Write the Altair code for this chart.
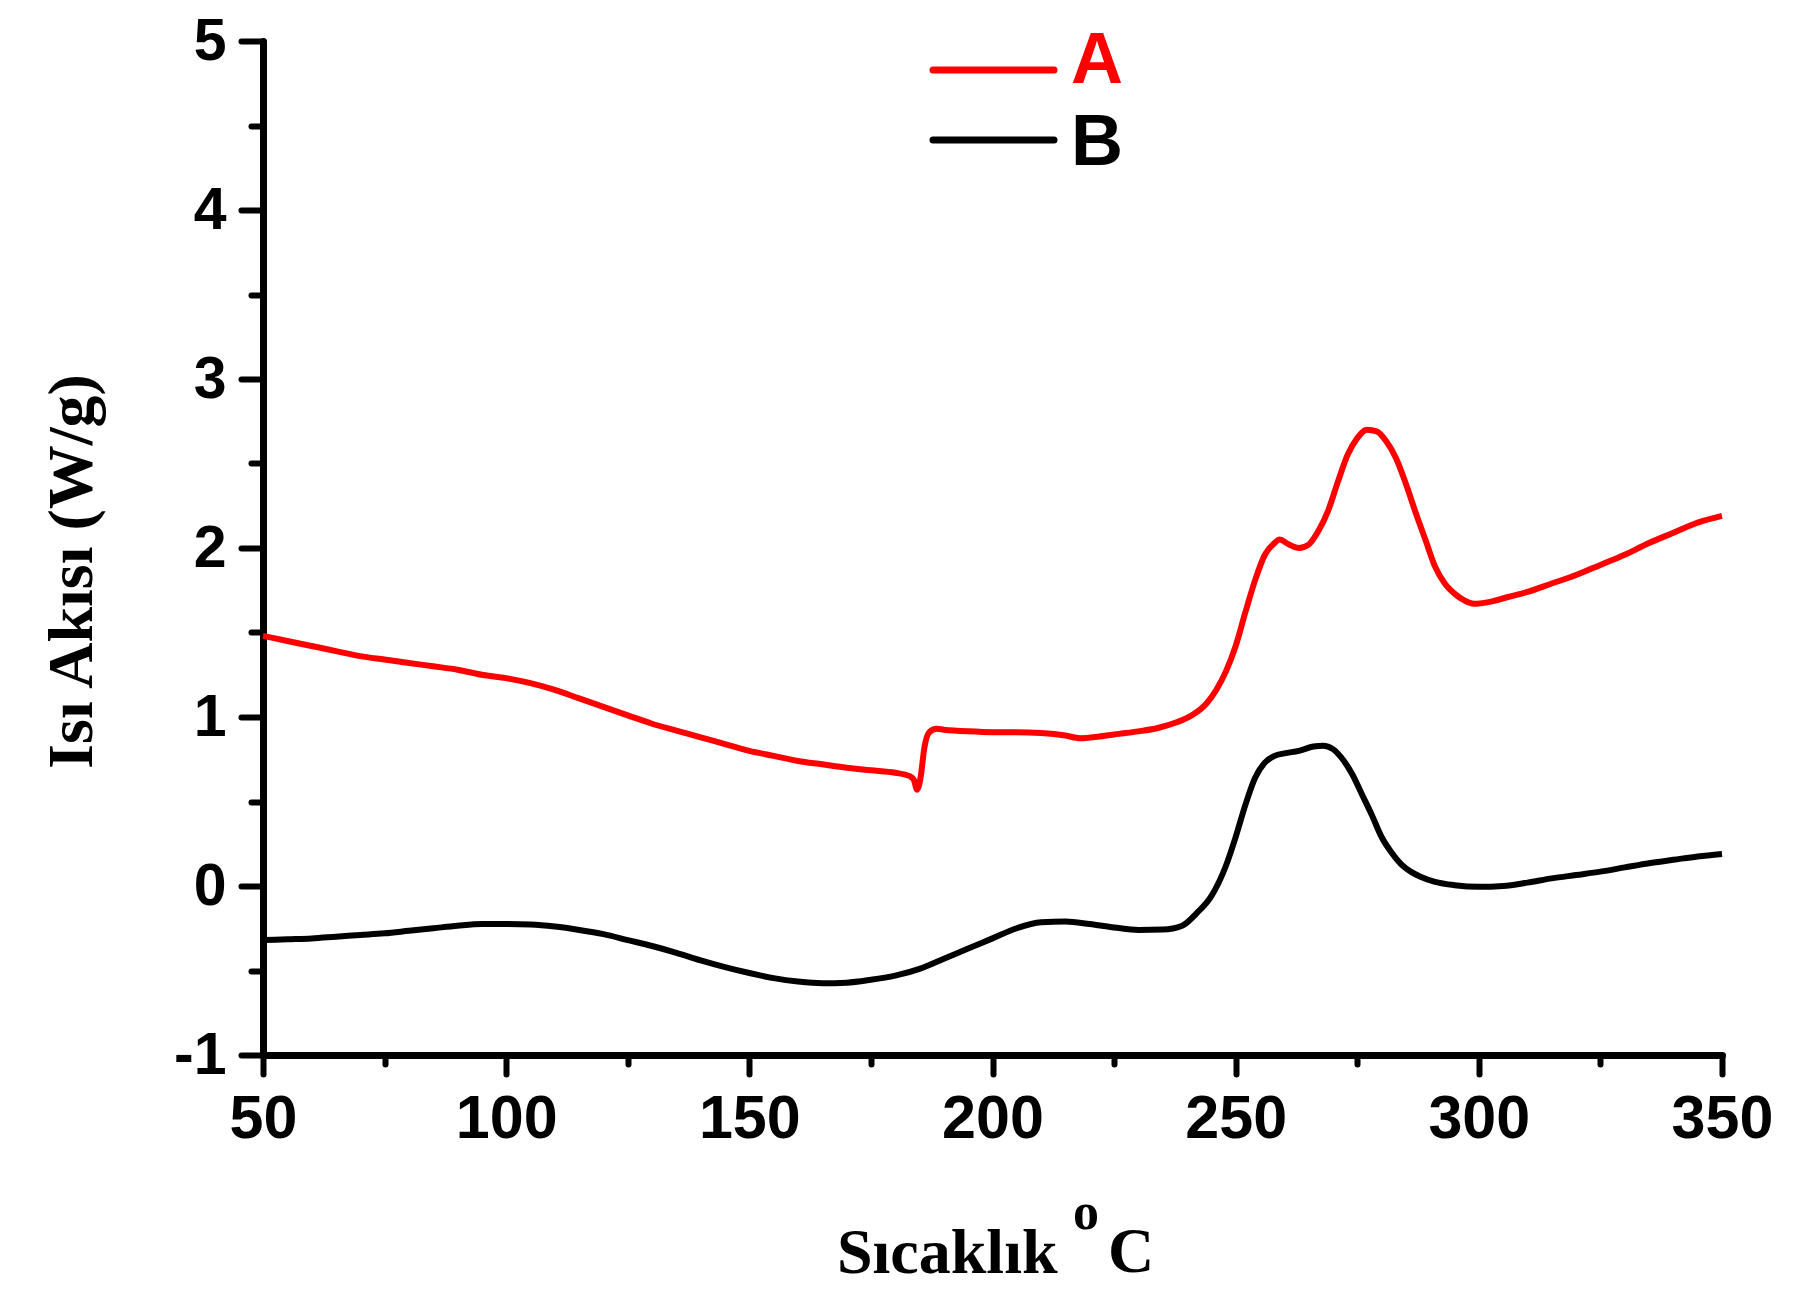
import altair as alt
import pandas as pd

# ---- data ----
temp_A = [50, 55, 60, 65, 70, 75, 80, 85, 90, 95, 100, 105, 110, 115, 120, 125, 130, 135, 140, 145,
          150, 155, 160, 165, 170, 175, 180, 183, 183.8, 184.5, 185.2, 186, 187, 188.5, 190, 195, 200,
          205, 210, 215, 218, 222, 226, 230, 234, 238, 241, 244, 246, 248, 250, 252, 254, 256, 258,
          259, 261, 263, 265, 267, 269, 271, 273, 275, 277, 279, 281, 283, 285, 287, 289, 291, 293,
          295, 297, 299, 302, 306, 310, 315, 320, 325, 330, 335, 340, 345, 350]
flow_A = [1.48, 1.45, 1.42, 1.39, 1.36, 1.34, 1.32, 1.30, 1.28, 1.25, 1.23, 1.20, 1.16, 1.11, 1.06,
          1.01, 0.96, 0.92, 0.88, 0.84, 0.80, 0.77, 0.74, 0.72, 0.70, 0.685, 0.67, 0.65, 0.63, 0.57,
          0.64, 0.82, 0.91, 0.93, 0.925, 0.915, 0.91, 0.91, 0.905, 0.89, 0.875, 0.885, 0.90, 0.915,
          0.935, 0.97, 1.01, 1.08, 1.16, 1.27, 1.42, 1.62, 1.81, 1.96, 2.03, 2.05, 2.02, 2.00, 2.02,
          2.10, 2.22, 2.39, 2.55, 2.65, 2.70, 2.69, 2.63, 2.53, 2.38, 2.21, 2.05, 1.89, 1.79, 1.73,
          1.69, 1.67, 1.68, 1.71, 1.74, 1.79, 1.84, 1.90, 1.96, 2.03, 2.09, 2.15, 2.19]

temp_B = [50, 55, 60, 65, 70, 75, 80, 85, 90, 95, 100, 105, 110, 115, 120, 125, 130, 135, 140, 145,
          150, 155, 160, 165, 170, 175, 180, 185, 190, 195, 200, 205, 210, 215, 220, 225, 230, 235,
          239, 242, 245, 248, 250, 252, 254, 256, 258, 260, 263, 266, 268, 270, 272, 274, 276, 278,
          280, 282, 284, 286, 288, 291, 295, 300, 305, 310, 315, 320, 325, 330, 335, 340, 345, 350]
flow_B = [-0.32, -0.315, -0.31, -0.30, -0.29, -0.28, -0.265, -0.25, -0.235, -0.225, -0.225, -0.228,
          -0.24, -0.26, -0.285, -0.32, -0.355, -0.395, -0.44, -0.48, -0.515, -0.545, -0.565, -0.575,
          -0.572, -0.555, -0.53, -0.49, -0.43, -0.37, -0.31, -0.25, -0.215, -0.21, -0.225, -0.245,
          -0.26, -0.258, -0.235, -0.16, -0.06, 0.12, 0.29, 0.48, 0.64, 0.73, 0.77, 0.785, 0.80, 0.825,
          0.83, 0.81, 0.75, 0.66, 0.54, 0.42, 0.29, 0.20, 0.13, 0.085, 0.055, 0.025, 0.005, -0.005, 0.0,
          0.02, 0.045, 0.065, 0.085, 0.11, 0.135, 0.155, 0.175, 0.19]

series_names = ["A", "B"]
series_colors = ["#ff0000", "#000000"]
x_ticks = [50, 75, 100, 125, 150, 175, 200, 225, 250, 275, 300, 325, 350]
y_ticks = [-1, -0.5, 0, 0.5, 1, 1.5, 2, 2.5, 3, 3.5, 4, 4.5, 5]

df = pd.concat([
    pd.DataFrame({"T": temp_A, "v": flow_A, "seri": "A"}),
    pd.DataFrame({"T": temp_B, "v": flow_B, "seri": "B"}),
])

W, H = 1459, 1014
SANS = "Liberation Sans"
SERIF = "Liberation Serif"

x_axis = alt.Axis(
    values=x_ticks,
    labelExpr="datum.value % 50 === 0 ? '' + datum.value : ''",
    tickSize={"condition": {"test": "datum.value % 50 !== 0", "value": 9}, "value": 19},
    tickWidth=6, tickColor="black", tickCap="round",
    domainWidth=7, domainColor="black", domainCap="round",
    labelFont=SANS, labelFontWeight="bold", labelFontSize=61, labelColor="black",
    labelPadding=15, labelFlush=False, labelOverlap=False,
    grid=False,
    title="Sıcaklık", titleFont=SERIF, titleFontWeight="bold", titleFontSize=64,
    titleColor="black", titleAlign="right", titleBaseline="alphabetic",
    titleX=794, titleY=217, titleAngle=0,
)
y_axis = alt.Axis(
    values=y_ticks,
    labelExpr="datum.value % 1 === 0 ? '' + datum.value : ''",
    tickSize={"condition": {"test": "datum.value % 1 !== 0", "value": 12}, "value": 22},
    tickWidth=6, tickColor="black", tickCap="round",
    domainWidth=7, domainColor="black", domainCap="round",
    labelFont=SANS, labelFontWeight="bold", labelFontSize=59, labelColor="black",
    labelPadding=15, labelFlush=False, labelOverlap=False,
    grid=False,
    title="Isı Akısı (W/g)", titleFont=SERIF, titleFontWeight="bold", titleFontSize=64,
    titleColor="black", titleAngle=270, titleAlign="center", titleBaseline="alphabetic",
    titleX=-172, titleY=530,
)

lines = alt.Chart(df).mark_line(strokeWidth=6, interpolate="monotone").encode(
    x=alt.X("T:Q", scale=alt.Scale(domain=[50, 350], nice=False, zero=False), axis=x_axis),
    y=alt.Y("v:Q", scale=alt.Scale(domain=[-1, 5], nice=False, zero=False), axis=y_axis),
    color=alt.Color("seri:N", scale=alt.Scale(domain=series_names, range=series_colors), legend=None),
)

one = alt.Data(values=[{}])
layers = [lines]

# legend drawn as line samples + labels (layout positions in pixels)
legend_line_y = [29, 99]
legend_text_y = [42, 124]
for name, col, ly, ty in zip(series_names, series_colors, legend_line_y, legend_text_y):
    layers.append(
        alt.Chart(one).mark_rule(color=col, strokeWidth=7, strokeCap="round").encode(
            x=alt.value(670), x2=alt.value(791), y=alt.value(ly)
        )
    )
    layers.append(
        alt.Chart(one).mark_text(
            text=name, font=SANS, fontWeight="bold", fontSize=72, color=col,
            align="left", baseline="alphabetic",
        ).encode(x=alt.value(808), y=alt.value(ty))
    )

# superscript "o" and "C" of the x-axis title
layers.append(alt.Chart(one).mark_text(
    text="o", font=SERIF, fontWeight="bold", fontSize=52, align="center", baseline="alphabetic", color="black"
).encode(x=alt.value(823), y=alt.value(1188)))
layers.append(alt.Chart(one).mark_text(
    text="C", font=SERIF, fontWeight="bold", fontSize=64, align="left", baseline="alphabetic", color="black"
).encode(x=alt.value(845), y=alt.value(1231)))

chart = alt.layer(*layers).properties(
    width=W, height=H,
    background="white",
    autosize=alt.AutoSizeParams(type="none"),
    padding={"left": 255, "top": 33, "right": 70, "bottom": 230},
).configure_view(stroke=None)

chart.save("out.html", embed_options={"renderer": "svg", "actions": False})
